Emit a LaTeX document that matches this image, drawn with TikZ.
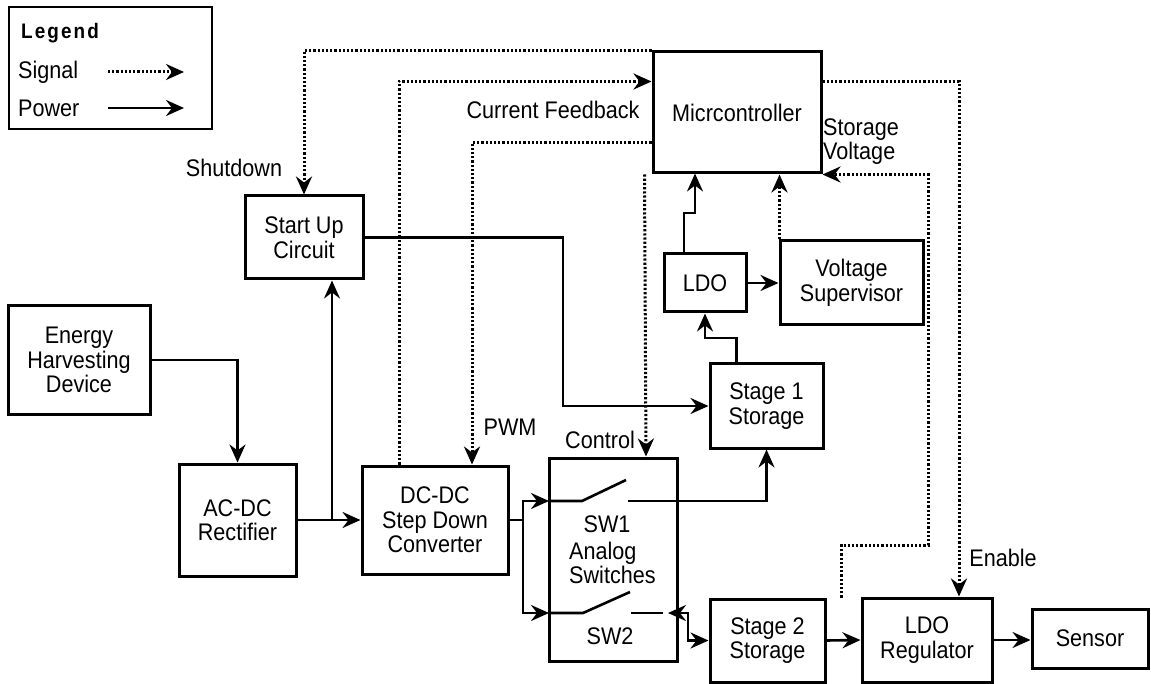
\documentclass[tikz,border=0pt]{standalone}
\usepackage{fontspec}
\setmainfont[FakeStretch=0.9]{Liberation Sans}
\usetikzlibrary{arrows.meta,calc}
\begin{document}
\begin{tikzpicture}[x=1pt,y=-1pt,
  every node/.style={font=\fontsize{24}{24.5}\selectfont},
  blk/.style={draw,line width=3pt,align=center,inner sep=0pt},
  pw/.style={line width=2.6pt},
  sig/.style={line width=3pt,dash pattern=on 2.2pt off 2pt},
  tip/.style={-{Stealth[length=18pt,width=16pt,inset=6pt]}},
  tips/.style={{Stealth[length=18pt,width=16pt,inset=6pt]}-{Stealth[length=18pt,width=16pt,inset=6pt]}},
  lbl/.style={inner sep=0pt,align=center}]
\fill[white] (0,0) rectangle (1151,684);
\useasboundingbox (0,0) rectangle (1151,684);

% legend
\node[blk,line width=2.6pt,minimum width=203pt,minimum height=122pt] (lg) at (110.5,68) {};
\node[lbl,anchor=west,font=\bfseries\fontsize{21}{21}\selectfont\addfontfeature{LetterSpace=10}] (lgt) at (21,33) {Legend};
\node[lbl,anchor=west] (lsig) at (18,72) {Signal};
\node[lbl,anchor=west] (lpow) at (18,108) {Power};
\coordinate (ls1) at (108,72); \coordinate (ls2) at (184,72);
\coordinate (lp1) at (108,108); \coordinate (lp2) at (184,108);
\draw[sig,tip] (ls1) -- (ls2);
\draw[pw,tip] (lp1) -- (lp2);

% blocks
\node[blk,minimum width=168pt,minimum height=121pt] (mc) at (737,112.5) {Micrcontroller};
\node[blk,minimum width=118pt,minimum height=83pt] (su) at (304,237.5) {Start Up\\Circuit};
\node[blk,minimum width=142pt,minimum height=108pt] (eh) at (79,360) {Energy\\Harvesting\\Device};
\node[blk,minimum width=117pt,minimum height=112pt] (ac) at (237.5,520) {AC-DC\\Rectifier};
\node[blk,minimum width=146pt,minimum height=108pt] (dc) at (435,520) {DC-DC\\Step Down\\Converter};
\node[blk,minimum width=128pt,minimum height=203pt] (sw) at (613,559.5) {};
\node[blk,minimum width=113pt,minimum height=84pt] (s1) at (766.5,406) {Stage 1\\Storage};
\node[blk,minimum width=82pt,minimum height=58pt] (ldo) at (705,283) {LDO};
\node[blk,minimum width=143pt,minimum height=84pt] (vs) at (851.5,283) {Voltage\\Supervisor};
\node[blk,minimum width=115pt,minimum height=83pt] (s2) at (767.5,640.5) {Stage 2\\Storage};
\node[blk,minimum width=130pt,minimum height=84pt] (lr) at (927,640) {LDO\\Regulator};
\node[blk,minimum width=116pt,minimum height=59pt] (se) at (1090,638.5) {Sensor};

% switch box texts
\node[lbl] (sw1t) at (607,524) {SW1};
\node[lbl,align=left,anchor=west] (swt) at (569,563) {Analog\\Switches};
\node[lbl] (sw2t) at (610,636) {SW2};

% labels
\node[lbl] (l1) at (234,168) {Shutdown};
\node[lbl] (l2) at (553,110) {Current Feedback};
\node[lbl] (l3) at (510,427) {PWM};
\node[lbl] (l4) at (600,440) {Control};
\node[lbl,align=left,anchor=west] (l5) at (823,141.5) {Storage\\Voltage};
\node[lbl] (l6) at (1003,558) {Enable};

% power connectors
\draw[pw,tip] (eh.east) -| (ac.north);
\draw[pw,tip] (ac.east) -- (dc.west);
\coordinate (j1) at (332,520);
\draw[pw,tip] (j1) -- (j1 |- su.south);
\draw[pw,tip] (su.east) -| (563,406) -- (s1.west);
\coordinate (j2) at (523,520);
\coordinate (a1) at (549,501); \coordinate (p1) at (582,501);
\coordinate (b1) at (626,480); \coordinate (c1) at (628,501);
\coordinate (a2) at (549,613); \coordinate (p2) at (583,613);
\coordinate (b2) at (630,592); \coordinate (c2) at (631,613);
\coordinate (d2) at (663,613); \coordinate (e2) at (668,613);
\draw[pw] (dc.east) -- (j2);
\draw[pw,tip] (j2) |- (a1);
\draw[pw,tip] (j2) |- (a2);
\draw[pw] (a1) -- (p1) -- (b1);
\draw[pw,tip] (c1) -| (s1.south);
\draw[pw] (a2) -- (p2) -- (b2);
\draw[pw] (c2) -- (d2);
\draw[pw,tips] (e2) -- (688,613) |- (s2.west);
\draw[pw,tip] ($(s1.north west)+(28,0)$) |- (705,338) -- (ldo.south);
\draw[pw,tip] ($(ldo.north)+(-21,0)$) |- (695,213) -- (695,173.5);
\draw[pw,tip] (ldo.east) -- (vs.west);
\draw[pw,tip] (s2.east) -- (lr.west);
\draw[pw,tip] (lr.east) -- (lr.east -| se.west);

% signal connectors
\draw[sig,tip] (mc.north west) -| (su.north);
\draw[sig,tip] ($(dc.north)+(-36,0)$) |- ($(mc.north west)+(0,31)$);
\draw[sig,tip] ($(mc.south west)+(0,-32)$) -| ($(dc.north)+(37,0)$);
\draw[sig,tip] ($(mc.south west)+(-7,0)$) -- ($(sw.north)+(33,0)$);
\draw[sig,tip] ($(vs.north west)+(1,0)$) -- ($(mc.south west)+(128,0)$);
\draw[sig,tip] ($(s2.north east)+(15,0)$) |- (928,545) |- (mc.south east);
\draw[sig,tip] ($(mc.north east)+(0,31)$) -| ($(lr.north)+(32,0)$);
\end{tikzpicture}
\end{document}
